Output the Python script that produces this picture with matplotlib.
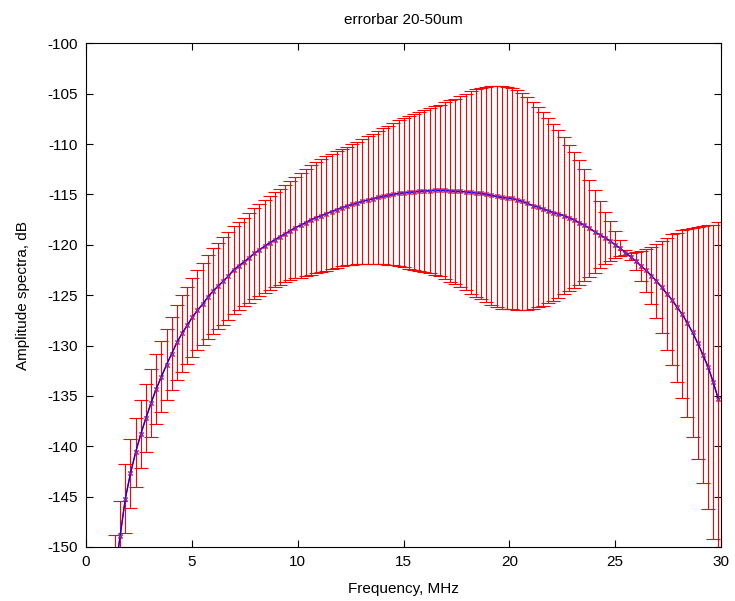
import matplotlib
matplotlib.use('Agg')
import matplotlib.pyplot as plt
import numpy as np

plt.rcParams['font.family'] = ['Liberation Sans', 'DejaVu Sans']
plt.rcParams['axes.unicode_minus'] = False

# frequency bins (MHz), evenly spaced FFT grid
freq = np.linspace(1.37, 29.87, 118)

# mean amplitude spectrum, dB
amp_mean = [
    -152.5, -148.9, -145.2, -142.7, -140.6, -138.8, -137.2, -135.7, -134.3, -133.1,
    -131.9, -130.8, -129.7, -128.8, -128.0, -127.2, -126.5, -125.9, -125.2, -124.6,
    -124.1, -123.6, -123.1, -122.5, -122.1, -121.7, -121.3, -120.85, -120.5, -120.15,
    -119.8, -119.5, -119.2, -118.9, -118.6, -118.3, -118.05, -117.8, -117.5, -117.3,
    -117.1, -116.9, -116.7, -116.5, -116.3, -116.15, -116.0, -115.85, -115.7, -115.55,
    -115.45, -115.3, -115.2, -115.1, -115.0, -114.9, -114.85, -114.8, -114.75, -114.7,
    -114.65, -114.65, -114.6, -114.6, -114.6, -114.65, -114.7, -114.7, -114.75, -114.8,
    -114.85, -114.9, -115.0, -115.1, -115.2, -115.3, -115.35, -115.4, -115.55, -115.7,
    -115.9, -116.1, -116.25, -116.45, -116.6, -116.8, -116.95, -117.1, -117.3, -117.5,
    -117.8, -118.05, -118.35, -118.7, -119.0, -119.3, -119.6, -120.0, -120.35, -120.8,
    -121.2, -121.6, -122.1, -122.55, -123.05, -123.6, -124.2, -124.85, -125.45, -126.2,
    -126.9, -127.75, -128.7, -129.75, -130.9, -132.1, -133.6, -135.3,
]

# error bar half-length, dB
amp_err = [
    3.65, 3.5, 3.45, 3.45, 3.4, 3.4, 3.4, 3.4, 3.45, 3.5,
    3.55, 3.6, 3.7, 3.8, 3.85, 3.9, 3.95, 4.05, 4.2, 4.25,
    4.3, 4.35, 4.35, 4.4, 4.4, 4.4, 4.45, 4.5, 4.55, 4.6,
    4.65, 4.7, 4.75, 4.8, 4.9, 5.0, 5.2, 5.3, 5.45, 5.55,
    5.65, 5.7, 5.75, 5.8, 5.85, 5.9, 6.0, 6.1, 6.2, 6.35,
    6.45, 6.6, 6.75, 6.9, 7.05, 7.25, 7.4, 7.6, 7.75, 7.9,
    8.05, 8.2, 8.35, 8.5, 8.75, 9.0, 9.2, 9.45, 9.7, 10.05,
    10.3, 10.5, 10.7, 10.85, 11.0, 11.05, 11.05, 11.0, 10.95, 10.8,
    10.6, 10.3, 9.95, 9.6, 9.2, 8.8, 8.35, 7.8, 7.25, 6.75,
    6.2, 5.55, 4.8, 4.1, 3.3, 2.6, 2.0, 1.35, 0.8, 0.25,
    0.35, 0.9, 1.45, 2.1, 2.8, 3.65, 4.6, 5.55, 6.5, 7.4,
    8.35, 9.3, 10.35, 11.5, 12.75, 14.1, 15.6, 17.55,
]

fig = plt.figure(figsize=(7.35, 6.01), dpi=100)
ax = fig.add_axes([0.117, 0.0899, 0.864, 0.838])

ax.errorbar(freq, amp_mean, yerr=amp_err, fmt='-', color='red', ecolor='red',
            elinewidth=0.8, linewidth=1.0, capsize=4.8, capthick=0.8,
            marker='x', markersize=3, zorder=2)
ax.plot(freq, amp_mean, color='blue', linewidth=0.9, marker='x', markersize=3,
        markeredgecolor='#9030c0', markeredgewidth=0.7, zorder=3)

ax.set_xlim(0, 30)
ax.set_ylim(-150, -100)
ax.set_xticks(np.arange(0, 31, 5))
ax.set_yticks(np.arange(-150, -99, 5))
ax.tick_params(direction='in', top=True, right=True, length=5, width=0.8,
               labelsize=11, pad=6)
for s in ax.spines.values():
    s.set_linewidth(0.8)

ax.set_title('errorbar 20-50um', fontsize=11, pad=14)
ax.set_xlabel('Frequency, MHz', fontsize=11, labelpad=9)
ax.set_ylabel('Amplitude spectra, dB', fontsize=11, labelpad=12)

fig.savefig('out.png', dpi=100, facecolor='white')
